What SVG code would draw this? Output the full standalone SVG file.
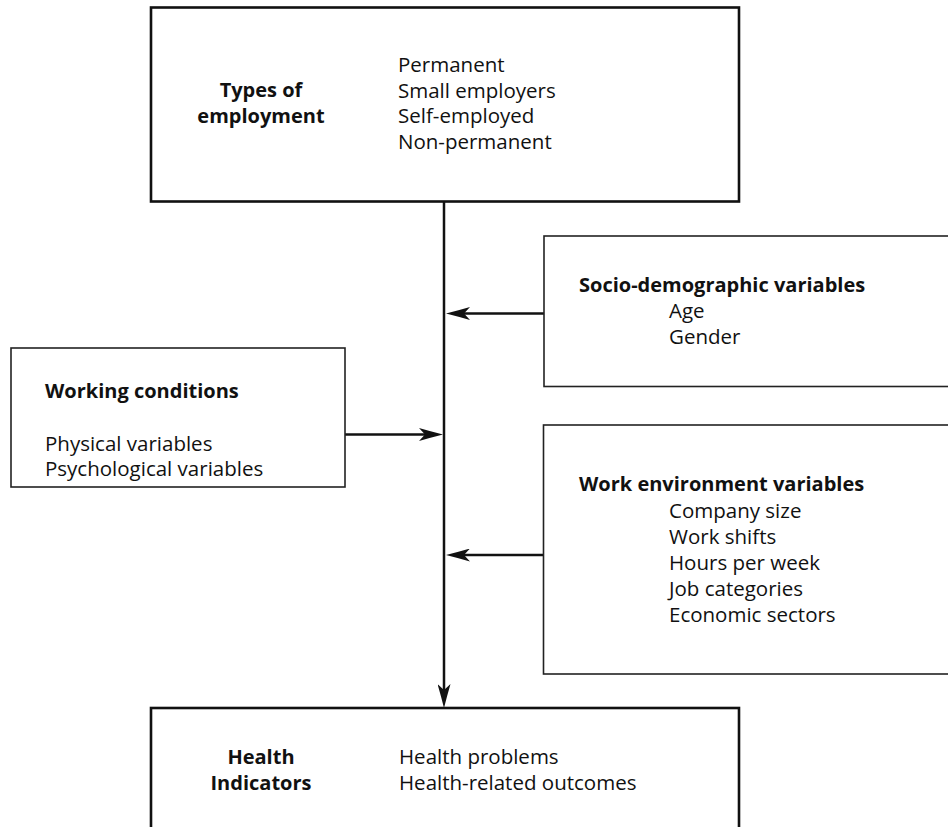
<svg xmlns="http://www.w3.org/2000/svg" width="948" height="827" viewBox="0 0 948 827">
<defs>
<style>
.t{font-family:"Open Sans","DejaVu Sans",sans-serif;font-size:20.5px;fill:#111}
.b{font-weight:bold;font-size:20px}
.c{text-anchor:middle}
.thick{fill:#fff;stroke:#111;stroke-width:2.6}
.thin{fill:#fff;stroke:#222;stroke-width:1.6}
.ln{fill:none;stroke:#111;stroke-width:2.5}
</style>
<marker id="ah" markerUnits="userSpaceOnUse" viewBox="0 0 24 13" refX="16" refY="6.5" markerWidth="24" markerHeight="13" orient="auto">
<path d="M24,6.5 Q12,3.5 0,0 L6,6.5 L0,13 Q12,9.5 24,6.5 Z" fill="#111"/>
</marker>
</defs>
<g id="connectors">
<path class="ln" d="M444,201 V700" marker-end="url(#ah)"/>
<path class="ln" d="M544,313.5 H454" marker-end="url(#ah)"/>
<path class="ln" d="M345,434.5 H435" marker-end="url(#ah)"/>
<path class="ln" d="M543.5,555 H454" marker-end="url(#ah)"/>
</g>
<g id="types-of-employment">
<rect class="thick" x="151" y="7.5" width="588" height="194"/>
<text class="t b c" x="261" y="97">Types of</text>
<text class="t b c" x="261" y="123">employment</text>
<text class="t" x="398" y="72">Permanent</text>
<text class="t" x="398" y="97.5">Small employers</text>
<text class="t" x="398" y="123">Self-employed</text>
<text class="t" x="398" y="148.5">Non-permanent</text>
</g>
<g id="socio-demographic">
<rect class="thin" x="544" y="236" width="410" height="150.5"/>
<text class="t b" x="579" y="291.5">Socio-demographic variables</text>
<text class="t" x="669" y="318">Age</text>
<text class="t" x="669" y="344">Gender</text>
</g>
<g id="working-conditions">
<rect class="thin" x="11" y="348" width="334" height="139"/>
<text class="t b" x="45" y="398">Working conditions</text>
<text class="t" x="45" y="450.5">Physical variables</text>
<text class="t" x="45" y="476">Psychological variables</text>
</g>
<g id="work-environment">
<rect class="thin" x="543.5" y="425" width="410" height="249"/>
<text class="t b" x="579" y="491">Work environment variables</text>
<text class="t" x="669" y="517.5">Company size</text>
<text class="t" x="669" y="543.5">Work shifts</text>
<text class="t" x="669" y="569.5">Hours per week</text>
<text class="t" x="669" y="595.5">Job categories</text>
<text class="t" x="669" y="621.5">Economic sectors</text>
</g>
<g id="health-indicators">
<rect class="thick" x="151" y="708" width="588" height="130"/>
<text class="t b c" x="261" y="763.5">Health</text>
<text class="t b c" x="261" y="789.5">Indicators</text>
<text class="t" x="399" y="763.5">Health problems</text>
<text class="t" x="399" y="789.5">Health-related outcomes</text>
</g>
</svg>
